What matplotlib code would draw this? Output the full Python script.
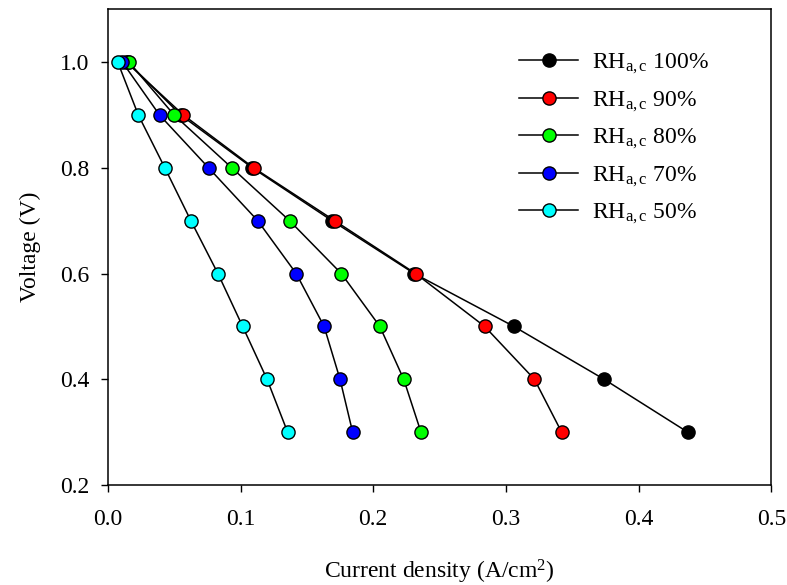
import matplotlib
matplotlib.use("Agg")
import matplotlib.pyplot as plt

plt.rcParams['font.family'] = ['Liberation Serif', 'DejaVu Serif']
plt.rcParams['mathtext.fontset'] = 'custom'
plt.rcParams['mathtext.rm'] = 'Liberation Serif'
plt.rcParams['mathtext.it'] = 'Liberation Serif:italic'

voltage = [1.0, 0.9, 0.8, 0.7, 0.6, 0.5, 0.4, 0.3]

# current density (A/cm2) for each relative humidity
rh100 = [0.015, 0.055, 0.109, 0.169, 0.231, 0.306, 0.374, 0.437]
rh90 = [0.014, 0.057, 0.110, 0.171, 0.232, 0.284, 0.3215, 0.342]
rh80 = [0.016, 0.050, 0.0935, 0.137, 0.176, 0.205, 0.223, 0.236]
rh70 = [0.011, 0.039, 0.076, 0.113, 0.142, 0.163, 0.175, 0.1845]
rh50 = [0.0075, 0.023, 0.043, 0.0626, 0.083, 0.1016, 0.120, 0.1355]

series = [rh100, rh90, rh80, rh70, rh50]
labels = ['100%', '90%', '80%', '70%', '50%']
colors = ['black', 'red', '#00ff00', 'blue', 'cyan']

fig = plt.figure(figsize=(7.87, 5.85), dpi=100)
ax = fig.add_axes([0.137, 0.171, 0.843, 0.813])

for cd, lab, c in zip(series, labels, colors):
    ax.plot(cd, voltage, '-o', color='black', lw=1.1, marker='o', ms=9.5,
            mfc=c, mec='black', mew=1.0,
            label=r'RH$_{\mathrm{a,c}}$ ' + lab)

ax.set_xlim(0, 0.5)
ax.set_ylim(0.2, 1.1)
ax.set_xticks([0.0, 0.1, 0.2, 0.3, 0.4, 0.5])
ax.set_yticks([0.2, 0.4, 0.6, 0.8, 1.0])
ax.xaxis.set_major_formatter(matplotlib.ticker.FormatStrFormatter('%.1f'))
ax.yaxis.set_major_formatter(matplotlib.ticker.FormatStrFormatter('%.1f'))
ax.tick_params(axis='x', direction='out', length=5, width=1, labelsize=17, pad=12,
               top=False)
ax.tick_params(axis='y', direction='out', length=5, width=1, labelsize=17, pad=8,
               right=False)
for s in ax.spines.values():
    s.set_linewidth(1.1)

ax.set_xlabel(r'Current density (A/cm$^{2}$)', fontsize=17, labelpad=20)
ax.set_ylabel('Voltage (V)', fontsize=17, labelpad=14)

ax.legend(loc='upper left', frameon=False, fontsize=17, handlelength=2.5,
          labelspacing=0.56, handletextpad=0.6, borderpad=0, borderaxespad=0,
          bbox_to_anchor=(0.62, 0.91))

fig.savefig('out.png', dpi=100)
